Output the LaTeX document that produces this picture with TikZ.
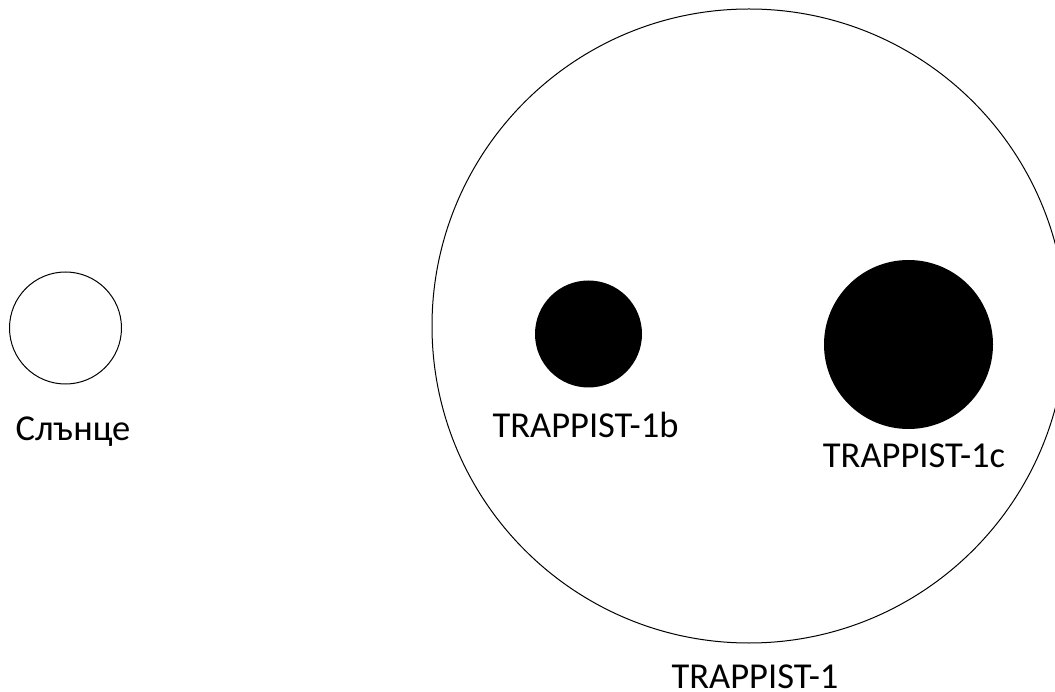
\documentclass[tikz,border=0pt]{standalone}
\usepackage{fontspec}
\setmainfont{Carlito}
\begin{document}
\begin{tikzpicture}[x=1pt,y=-1pt,
  ring/.style={circle,draw=black,line width=1pt,inner sep=0pt,fill=white},
  planet/.style={circle,fill=black,inner sep=0pt},
  lbl/.style={inner sep=0pt,anchor=base,font=\fontsize{36.5}{40}\selectfont}]
\useasboundingbox (0,0) rectangle (1055,692);
\clip (0,0) rectangle (1055,692);
\node[ring,minimum size=112pt] (sun) at (65.5,328) {};
\node[lbl] (sunlbl) at (73,440) {Слънце};
\node[ring,minimum size=634pt] (star) at (749,326) {};
\node[planet,minimum size=107pt] (b) at (588.5,334) {};
\node[planet,minimum size=169pt] (c) at (908.5,344.5) {};
\node[lbl] (blbl) at (585.5,437) {TRAPPIST-1b};
\node[lbl] (clbl) at (914,467) {TRAPPIST-1c};
\node[lbl] (starlbl) at (755,688) {TRAPPIST-1};
\end{tikzpicture}
\end{document}
